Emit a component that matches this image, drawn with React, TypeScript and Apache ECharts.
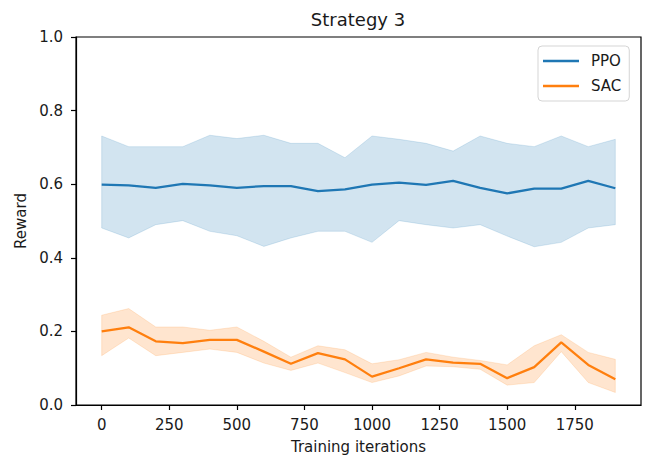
import React, { useEffect, useRef } from "react";
import * as echarts from "echarts";

const iterations = [0, 100, 200, 300, 400, 500, 600, 700, 800, 900, 1000, 1100, 1200, 1300, 1400, 1500, 1600, 1700, 1800, 1900];
const ppoMean = [0.599, 0.597, 0.590, 0.601, 0.597, 0.590, 0.595, 0.595, 0.581, 0.586, 0.599, 0.604, 0.598, 0.609, 0.590, 0.575, 0.588, 0.588, 0.609, 0.589];
const ppoUpper = [0.731, 0.702, 0.702, 0.702, 0.733, 0.724, 0.733, 0.711, 0.711, 0.672, 0.731, 0.722, 0.711, 0.690, 0.731, 0.711, 0.702, 0.731, 0.702, 0.722];
const ppoLower = [0.481, 0.454, 0.490, 0.501, 0.472, 0.460, 0.431, 0.454, 0.472, 0.472, 0.442, 0.501, 0.490, 0.481, 0.490, 0.459, 0.430, 0.442, 0.481, 0.490];
const sacMean = [0.200, 0.211, 0.173, 0.168, 0.177, 0.177, 0.145, 0.112, 0.141, 0.124, 0.077, 0.100, 0.124, 0.115, 0.112, 0.073, 0.103, 0.170, 0.109, 0.070];
const sacUpper = [0.244, 0.262, 0.212, 0.212, 0.203, 0.212, 0.173, 0.130, 0.161, 0.150, 0.112, 0.123, 0.143, 0.130, 0.121, 0.109, 0.161, 0.191, 0.143, 0.124];
const sacLower = [0.134, 0.182, 0.134, 0.143, 0.152, 0.143, 0.114, 0.094, 0.114, 0.088, 0.061, 0.079, 0.106, 0.104, 0.097, 0.054, 0.061, 0.145, 0.061, 0.034];
const xTicks = [0, 250, 500, 750, 1000, 1250, 1500, 1750];

const FONT = "DejaVu Sans";
const TEXT = "#1a1a1a";
const BLUE = "#1f77b4";
const ORANGE = "#ff7f0e";

function pairs(ys: number[]) {
  return iterations.map((x, i) => [x, ys[i]]);
}

function band(name: string, lower: number[], upper: number[], fill: string) {
  return {
    name: name + "_band",
    type: "custom",
    silent: true,
    z: 1,
    clip: true,
    data: [[0, 0]],
    renderItem: (_params: any, api: any) => {
      const pts: number[][] = [];
      for (let i = 0; i < iterations.length; i++) pts.push(api.coord([iterations[i], upper[i]]));
      for (let i = iterations.length - 1; i >= 0; i--) pts.push(api.coord([iterations[i], lower[i]]));
      return {
        type: "polygon",
        shape: { points: pts },
        style: { fill, stroke: fill, lineWidth: 0.8 },
      };
    },
  };
}

export default function App() {
  const ref = useRef<HTMLDivElement>(null);
  useEffect(() => {
    document.body.style.margin = "0";
    if (!ref.current) return;
    const chart = echarts.init(ref.current, undefined, { renderer: "svg" });
    chart.setOption({
      animation: false,
      backgroundColor: "#ffffff",
      textStyle: { fontFamily: FONT, color: TEXT },
      title: {
        text: "Strategy 3",
        left: 358,
        textAlign: "center",
        top: 10,
        padding: 0,
        textStyle: { fontFamily: FONT, fontSize: 18, fontWeight: "normal", color: TEXT },
      },
      legend: {
        data: ["PPO", "SAC"],
        orient: "vertical",
        left: 538,
        top: 46,
        padding: [6, 8, 6, 5],
        itemGap: 7,
        itemWidth: 36,
        itemHeight: 2.5,
        icon: "rect",
        borderColor: "#d5d5d5",
        borderWidth: 1,
        borderRadius: 4,
        backgroundColor: "rgba(255,255,255,0.8)",
        textStyle: { fontFamily: FONT, fontSize: 15, color: TEXT, padding: [0, 0, 0, 7], lineHeight: 18 },
      },
      grid: {
        left: 76,
        right: 12,
        top: 37,
        bottom: 52,
        show: true,
        containLabel: false,
        outerBoundsMode: "none",
        borderColor: "#000",
        borderWidth: 1.2,
        backgroundColor: "transparent",
      },
      xAxis: {
        type: "value",
        min: -95,
        max: 1995,
        name: "Training iterations",
        nameLocation: "middle",
        nameGap: 34,
        nameTextStyle: { fontFamily: FONT, fontSize: 15, color: TEXT },
        axisLine: { show: true, onZero: false, lineStyle: { color: "#000", width: 1.2 } },
        axisTick: { show: true, length: 5, customValues: xTicks, lineStyle: { color: "#000", width: 1.2 } },
        axisLabel: {
          customValues: xTicks,
          margin: 12,
          fontFamily: FONT,
          fontSize: 15,
          color: TEXT,
          formatter: (v: number) => String(v),
        },
        splitLine: { show: false },
      },
      yAxis: {
        type: "value",
        min: 0,
        max: 1,
        interval: 0.2,
        name: "Reward",
        nameLocation: "middle",
        nameGap: 48,
        nameTextStyle: { fontFamily: FONT, fontSize: 15, color: TEXT },
        axisLine: { show: true, onZero: false, lineStyle: { color: "#000", width: 1.2 } },
        axisTick: { show: true, length: 5, lineStyle: { color: "#000", width: 1.2 } },
        axisLabel: {
          margin: 13,
          fontFamily: FONT,
          fontSize: 15,
          color: TEXT,
          formatter: (v: number) => v.toFixed(1),
        },
        splitLine: { show: false },
      },
      series: [
        band("PPO", ppoLower, ppoUpper, "rgba(31,119,180,0.2)"),
        band("SAC", sacLower, sacUpper, "rgba(255,127,14,0.2)"),
        {
          name: "PPO",
          type: "line",
          data: pairs(ppoMean),
          symbol: "none",
          color: BLUE,
          lineStyle: { color: BLUE, width: 2.25 },
          z: 3,
        },
        {
          name: "SAC",
          type: "line",
          data: pairs(sacMean),
          symbol: "none",
          color: ORANGE,
          lineStyle: { color: ORANGE, width: 2.25 },
          z: 3,
        },
      ],
    });
    return () => chart.dispose();
  }, []);
  return <div ref={ref} style={{ position: "fixed", left: 0, top: 0, width: 653, height: 457 }} />;
}
